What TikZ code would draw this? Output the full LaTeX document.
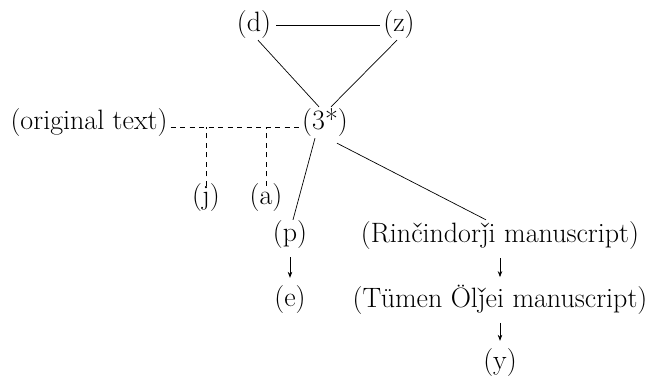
\documentclass[tikz,border=0pt]{standalone}
\usetikzlibrary{arrows.meta}
\begin{document}
\begin{tikzpicture}[x=1pt,y=-1pt,
  lbl/.style={inner sep=0pt, font=\fontsize{28}{33}\selectfont},
  con/.style={line width=0.7pt},
  dsh/.style={line width=0.7pt, dash pattern=on 5pt off 4.5pt},
  arr/.style={line width=0.7pt, -{Stealth[length=6pt,width=4.5pt]}, shorten <=8pt, shorten >=8pt}]
\useasboundingbox (0,0) rectangle (654,384);
\node[lbl] (d) at (254,25) {(d)};
\node[lbl] (z) at (399,25) {(z)};
\node[lbl] (s) at (325,123) {(3*)};
\node[lbl] (o) at (89,123) {(original text)};
\node[lbl] (j) at (206,198) {(j)};
\node[lbl] (a) at (266,198) {(a)};
\node[lbl] (p) at (290,235) {(p)};
\node[lbl] (e) at (290,300) {(e)};
\node[lbl] (r) at (500,236) {(Rinčindorǰi manuscript)};
\node[lbl] (t) at (500,300) {(Tümen Ölǰei manuscript)};
\node[lbl] (y) at (500,363) {(y)};
\coordinate (ol) at ([xshift=3pt,yshift=-4pt]o.east);
\coordinate (sl) at ([yshift=-4pt]s.west);
\draw[con] ([xshift=5pt]d.east) -- ([xshift=-3pt]z.west);
\draw[con] ([xshift=4pt,yshift=-1pt]d.south) -- ([xshift=-6pt,yshift=2pt]s.north);
\draw[con] ([xshift=-2pt,yshift=-1pt]z.south) -- ([xshift=6pt,yshift=2pt]s.north);
\draw[dsh] (ol) -- (sl);
\draw[dsh] ([yshift=-2pt]j.north) -- (j.north |- ol);
\draw[dsh] ([yshift=-2pt]a.north) -- (a.north |- ol);
\draw[con] ([xshift=-10pt,yshift=-1pt]s.south) -- ([xshift=3pt,yshift=1pt]p.north);
\draw[con] ([xshift=12pt,yshift=-6pt]s.south) -- ([xshift=-14pt,yshift=2pt]r.north);
\draw[arr] (p) -- (e);
\draw[arr] (r) -- (t);
\draw[arr] (t) -- (y);
\end{tikzpicture}
\end{document}
